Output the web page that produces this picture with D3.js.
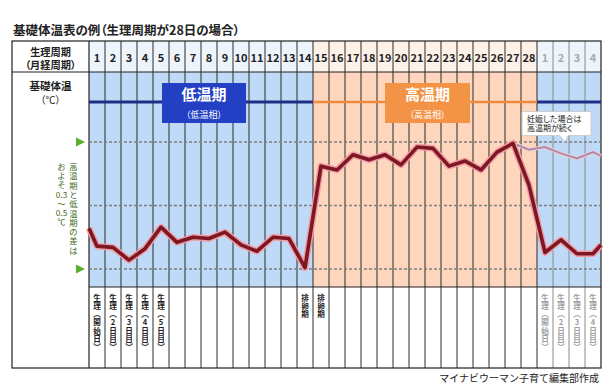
<!DOCTYPE html>
<html>
<head>
<meta charset="utf-8">
<script src="https://d3js.org/d3.v7.min.js"></script>
<style>
  body { margin: 0; background: #fff; }
  #wrap { position: relative; width: 611px; height: 389px; }
  svg { position: absolute; left: 0; top: 0; }
  text, .lbl { font-family: "Noto Sans CJK JP", "Noto Sans", sans-serif; }
  .lbl { position: absolute; white-space: nowrap; }
  .palt { font-feature-settings: "palt"; }
</style>
</head>
<body>
<div id="wrap"><svg width="611" height="389"></svg></div>
<script>
// ---- data ----
const dayLabels = ["1","2","3","4","5","6","7","8","9","10","11","12","13","14",
  "15","16","17","18","19","20","21","22","23","24","25","26","27","28","1","2","3","4"];
const phases = ["low","low","low","low","low","low","low","low","low","low","low","low","low","low",
  "high","high","high","high","high","high","high","high","high","high","high","high","high","high",
  "next","next","next","next"];

// day position (column centre = day number), temperature (℃)
const tempDays = [0.5, 1, 2, 3, 4, 5, 6, 7, 8, 9, 10, 11, 12, 13, 14, 15, 16, 17, 18, 19, 20,
  21, 22, 23, 24, 25, 26, 27, 28, 29, 30, 31, 32, 32.5];
const temps = [36.32, 36.18, 36.17, 36.07, 36.16, 36.33, 36.21, 36.25, 36.24, 36.29, 36.19, 36.14,
  36.25, 36.24, 36.01, 36.81, 36.78, 36.90, 36.86, 36.90, 36.82, 36.96, 36.95, 36.81, 36.85,
  36.78, 36.92, 36.99, 36.66, 36.13, 36.23, 36.12, 36.12, 36.19];

const pregDays = [27, 28, 29, 30, 31, 32, 32.5];
const pregTemps = [36.99, 36.94, 36.96, 36.91, 36.87, 36.92, 36.89];

const gridTemps = [36.0, 36.5, 37.0];

// notes under the chart, one glyph per row
const notes = [
  { day: 1, chars: ["生","理","︵","開","始","日","︶"], grey: false },
  { day: 2, chars: ["生","理","︵","2","日","目","︶"], grey: false },
  { day: 3, chars: ["生","理","︵","3","日","目","︶"], grey: false },
  { day: 4, chars: ["生","理","︵","4","日","目","︶"], grey: false },
  { day: 5, chars: ["生","理","︵","5","日","目","︶"], grey: false },
  { day: 14, chars: ["排","卵","期"], grey: false },
  { day: 15, chars: ["排","卵","期"], grey: false },
  { day: 29, chars: ["生","理","︵","開","始","日","︶"], grey: true },
  { day: 30, chars: ["生","理","︵","2","日","目","︶"], grey: true },
  { day: 31, chars: ["生","理","︵","3","日","目","︶"], grey: true },
  { day: 32, chars: ["生","理","︵","4","日","目","︶"], grey: true }
];

const diffRight = ["高","温","期","と","低","温","期","の","差","は"];
const diffLeft = ["お","よ","そ","0.3","～","0.5","℃"];

// ---- layout ----
const svg = d3.select("svg");
const wrap = d3.select("#wrap");
const L = 12, C = 89, R = 601, T = 41, H = 72, B = 287, BOT = 368;

const xBand = d3.scaleBand().domain(d3.range(dayLabels.length)).range([C, R]);
const xPos = d3.scaleLinear().domain([0.5, 32.5]).range([C, R]);
const y = d3.scaleLinear().domain([36.0, 37.0]).range([269, 142]);

const fillCol = { low: "#bfdaf6", high: "#fdd6bd", next: "#bfdaf6" };
const headCol = { low: "#edf4fc", high: "#fdf1e8", next: "#edf4fc" };

// title
svg.append("text").attr("class", "palt").attr("x", 13).attr("y", 35)
  .attr("font-size", 12.5).attr("font-weight", "bold").attr("fill", "#222")
  .text("基礎体温表の例（生理周期が28日の場合）");

// header + fill cells
const cols = svg.append("g");
cols.selectAll(".head").data(phases).join("rect")
  .attr("x", (d, i) => xBand(i)).attr("y", T)
  .attr("width", xBand.bandwidth()).attr("height", H - T)
  .attr("fill", d => headCol[d]);
cols.selectAll(".fill").data(phases).join("rect")
  .attr("x", (d, i) => xBand(i)).attr("y", H)
  .attr("width", xBand.bandwidth()).attr("height", B - H)
  .attr("fill", d => fillCol[d]);

// day numbers
svg.append("g").selectAll("text").data(dayLabels).join("text")
  .attr("x", (d, i) => xBand(i) + xBand.bandwidth() / 2)
  .attr("y", 57).attr("text-anchor", "middle").attr("dominant-baseline", "central")
  .attr("font-size", 11).attr("font-weight", "bold")
  .attr("fill", (d, i) => phases[i] === "next" ? "#aaa" : "#222")
  .text(d => d);

// vertical grid lines
svg.append("g").selectAll("line").data(d3.range(1, dayLabels.length)).join("line")
  .attr("x1", i => xBand(i)).attr("x2", i => xBand(i))
  .attr("y1", T).attr("y2", BOT)
  .attr("stroke", i => i > 28 ? "#8a8a8a" : "#2a2a2a")
  .attr("stroke-width", 1);

// table frame
const frame = svg.append("g").attr("fill", "none").attr("stroke", "#222").attr("stroke-width", 1.2);
frame.append("rect").attr("x", L).attr("y", T).attr("width", R - L).attr("height", BOT - T);
frame.append("line").attr("x1", L).attr("x2", R).attr("y1", H).attr("y2", H);
frame.append("line").attr("x1", C).attr("x2", C).attr("y1", T).attr("y2", BOT);
frame.append("line").attr("x1", C).attr("x2", R).attr("y1", B).attr("y2", B);

// multi-line HTML label
function label(left, top, width, html, size, lh, color, weight, align) {
  return wrap.append("div").attr("class", "lbl palt")
    .style("left", left + "px").style("top", top + "px").style("width", width + "px")
    .style("font-size", size + "px").style("line-height", lh + "px")
    .style("color", color).style("font-weight", weight).style("text-align", align)
    .html(html);
}
label(12, 44.5, 77, "生理周期<br>（月経周期）", 10.2, 13.8, "#222", "bold", "center");
label(12, 79, 77, "基礎体温<br><span style='font-weight:normal;font-size:10px'>（℃）</span>", 10.5, 14, "#222", "bold", "center");

// phase lines
const phaseY = 102;
svg.append("line").attr("x1", C).attr("x2", xBand(14)).attr("y1", phaseY).attr("y2", phaseY)
  .attr("stroke", "#1c2f86").attr("stroke-width", 3);
svg.append("line").attr("x1", xBand(14)).attr("x2", xBand(28)).attr("y1", phaseY).attr("y2", phaseY)
  .attr("stroke", "#f08a3c").attr("stroke-width", 2.5);
svg.append("line").attr("x1", xBand(28)).attr("x2", R).attr("y1", phaseY).attr("y2", phaseY)
  .attr("stroke", "#1c2f86").attr("stroke-width", 3);

// dashed temperature guides
svg.append("g").selectAll("line").data(gridTemps).join("line")
  .attr("x1", C).attr("x2", R + 1).attr("y1", d => y(d)).attr("y2", d => y(d))
  .attr("stroke", "#7e7e7e").attr("stroke-width", 1.4).attr("stroke-dasharray", "3,2");

// green triangles at 37.0 and 36.0
svg.append("g").selectAll("path").data([37.0, 36.0]).join("path")
  .attr("d", d => `M76,${y(d) - 4.5}L85,${y(d)}L76,${y(d) + 4.5}Z`)
  .attr("fill", "#5aae2c");

// phase boxes
function phaseBox(x0, x1, fill, big, small) {
  svg.append("rect").attr("x", x0).attr("y", 83).attr("width", x1 - x0).attr("height", 40).attr("fill", fill);
  label(x0, 85, x1 - x0, `${big}<br><span style='font-size:9px;font-weight:normal'>${small}</span>`,
    15, 18, "#fff", "bold", "center");
}
phaseBox(162, 246, "#2340c4", "低温期", "（低温相）");
phaseBox(385, 470, "#f39345", "高温期", "（高温相）");

// vertical text helper: one glyph per row
function vtext(x, y0, step, chars, size, color, weight) {
  svg.append("g").selectAll("text").data(chars).join("text")
    .attr("x", x).attr("y", (d, i) => y0 + i * step)
    .attr("text-anchor", "middle").attr("dominant-baseline", "central")
    .attr("font-size", size).attr("font-weight", weight).attr("fill", color)
    .text(d => d);
}
vtext(73.5, 166, 9.3, diffRight, 8.3, "#3b6b1c", "normal");
vtext(61.5, 166, 9.2, diffLeft, 8.3, "#3b6b1c", "normal");

// pregnancy continuation line
const line = d3.line().x(d => xPos(d[0])).y(d => y(d[1]));
const preg = d3.zip(pregDays, pregTemps);
svg.append("path").datum(preg).attr("d", line).attr("fill", "none")
  .attr("stroke", "#f2cfd6").attr("stroke-width", 3.8).attr("stroke-linejoin", "round");
svg.append("path").datum(preg).attr("d", line).attr("fill", "none")
  .attr("stroke", "#ad8aa8").attr("stroke-width", 2);

// main temperature line
const main = d3.zip(tempDays, temps);
svg.append("path").datum(main).attr("d", line).attr("fill", "none")
  .attr("stroke", "#f29aa6").attr("stroke-width", 6.5).attr("stroke-linejoin", "round");
svg.append("path").datum(main).attr("d", line).attr("fill", "none")
  .attr("stroke", "#7b1822").attr("stroke-width", 3.6).attr("stroke-linejoin", "round");

// callout
svg.append("path")
  .attr("d", "M522,111.5H591V135.5H568L565,142L560,135.5H522Z")
  .attr("fill", "#fff").attr("stroke", "#c8c8c8").attr("stroke-width", 0.8);
label(527, 113.5, 63, "妊娠した場合は<br>高温期が続く", 8, 9.8, "#222", "normal", "left");

// bottom notes
notes.forEach(n => {
  vtext(xBand(n.day - 1) + xBand.bandwidth() / 2, 297, 8.3, n.chars, 7.6,
    n.grey ? "#a0a0a0" : "#222", "bold");
});

// footer
svg.append("text").attr("x", 599).attr("y", 381.5).attr("text-anchor", "end")
  .attr("font-size", 10).attr("fill", "#222")
  .text("マイナビウーマン子育て編集部作成");
</script>
</body>
</html>
